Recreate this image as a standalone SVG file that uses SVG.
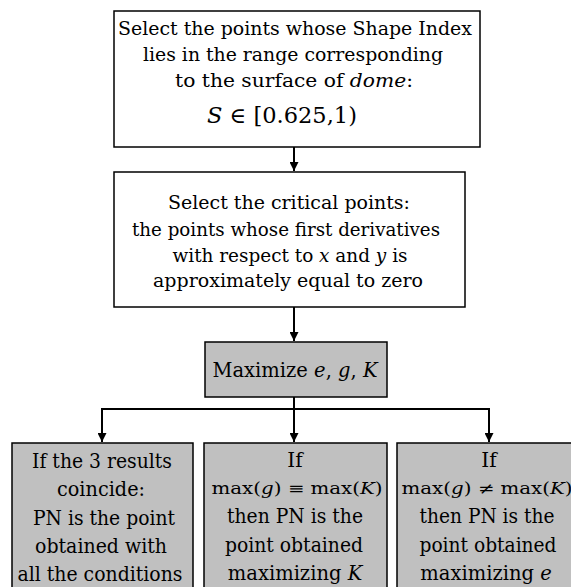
<svg xmlns="http://www.w3.org/2000/svg" width="571" height="587" viewBox="0 0 571 587">
<style>
text{font-family:"DejaVu Serif","Liberation Serif",serif;fill:#000;text-anchor:middle}
.t{font-size:18px}
.b{font-size:20px}
.n{font-size:19.5px}
.m{font-size:16px}
.i{font-style:italic}
.box{fill:#fff;stroke:#000;stroke-width:1.5}
.gbox{fill:#c0c0c0;stroke:#000;stroke-width:1.5}
.c{fill:none;stroke:#000;stroke-width:2}
</style>
<defs>
<marker id="ah" markerUnits="userSpaceOnUse" markerWidth="9" markerHeight="9" refX="10" refY="5" orient="auto-start-reverse" viewBox="0 0 10 10">
<path d="M0,0 L10,5 L0,10 Z" fill="#000"/>
</marker>
</defs>
<rect width="571" height="587" fill="#fff"/>
<g id="n1">
<rect class="box" x="114" y="11" width="366" height="136"/>
<text class="t" x="295" y="35" textLength="354" lengthAdjust="spacingAndGlyphs">Select the points whose Shape Index</text>
<text class="t" x="293" y="61" textLength="300" lengthAdjust="spacingAndGlyphs">lies in the range corresponding</text>
<text class="t" x="294" y="87" textLength="238" lengthAdjust="spacingAndGlyphs">to the surface of <tspan class="i">dome</tspan>:</text>
<text class="t" x="282" y="123" textLength="150" lengthAdjust="spacingAndGlyphs" style="font-size:22px"><tspan class="i">S</tspan> ∈ [0.625,1)</text>
</g>
<g id="n2">
<rect class="box" x="114" y="172" width="351" height="135"/>
<text class="t" x="289" y="209" textLength="242" lengthAdjust="spacingAndGlyphs">Select the critical points:</text>
<text class="t" x="286" y="236" textLength="308" lengthAdjust="spacingAndGlyphs">the points whose first derivatives</text>
<text class="t" x="290" y="262" textLength="235" lengthAdjust="spacingAndGlyphs">with respect to <tspan class="i">x</tspan> and <tspan class="i">y</tspan> is</text>
<text class="t" x="288" y="287" textLength="270" lengthAdjust="spacingAndGlyphs">approximately equal to zero</text>
</g>
<g id="n3">
<rect class="gbox" x="205" y="342" width="182" height="55"/>
<text class="n" x="295" y="377">Maximize <tspan class="i">e</tspan>, <tspan class="i">g</tspan>, <tspan class="i">K</tspan></text>
</g>
<g id="n4">
<rect class="gbox" x="12" y="443" width="181" height="160"/>
<text class="b" x="102" y="468" textLength="140" lengthAdjust="spacingAndGlyphs">If the 3 results</text>
<text class="b" x="101" y="496" textLength="88" lengthAdjust="spacingAndGlyphs">coincide:</text>
<text class="b" x="104" y="525" textLength="142" lengthAdjust="spacingAndGlyphs">PN is the point</text>
<text class="b" x="101" y="553" textLength="132" lengthAdjust="spacingAndGlyphs">obtained with</text>
<text class="b" x="100" y="581" textLength="165" lengthAdjust="spacingAndGlyphs">all the conditions</text>
</g>
<g id="n5">
<rect class="gbox" x="204" y="443" width="183" height="160"/>
<text class="b" x="295" y="467">If</text>
<text class="m" x="297" y="494" textLength="171" lengthAdjust="spacingAndGlyphs">max(<tspan class="i">g</tspan>) ≡ max(<tspan class="i">K</tspan>)</text>
<text class="b" x="295" y="523" textLength="136" lengthAdjust="spacingAndGlyphs">then PN is the</text>
<text class="b" x="294" y="552" textLength="138" lengthAdjust="spacingAndGlyphs">point obtained</text>
<text class="n" x="295" y="580">maximizing <tspan class="i">K</tspan></text>
</g>
<g id="n6">
<rect class="gbox" x="397" y="443" width="184" height="160"/>
<text class="b" x="489" y="467">If</text>
<text class="m" x="487" y="494" textLength="171" lengthAdjust="spacingAndGlyphs">max(<tspan class="i">g</tspan>) ≠ max(<tspan class="i">K</tspan>)</text>
<text class="b" x="487" y="523" textLength="135" lengthAdjust="spacingAndGlyphs">then PN is the</text>
<text class="b" x="488" y="552" textLength="137" lengthAdjust="spacingAndGlyphs">point obtained</text>
<text class="n" x="486" y="580">maximizing <tspan class="i">e</tspan></text>
</g>
<g id="connectors">
<line class="c" x1="294" y1="147" x2="294" y2="171" marker-end="url(#ah)"/>
<line class="c" x1="294" y1="307" x2="294" y2="341" marker-end="url(#ah)"/>
<polyline class="c" points="294,397 294,409"/>
<polyline class="c" points="102,442 102,409 489,409 489,442" marker-start="url(#ah)" marker-end="url(#ah)"/>
<line class="c" x1="294" y1="409" x2="294" y2="442" marker-end="url(#ah)"/>
</g>
</svg>
